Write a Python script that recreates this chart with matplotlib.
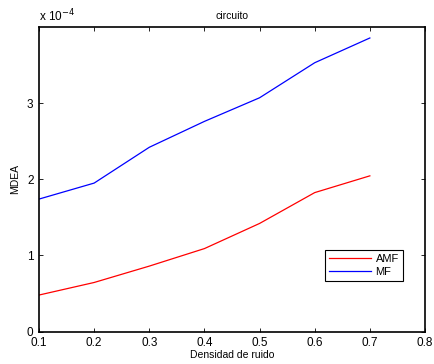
import matplotlib
matplotlib.use("Agg")
import matplotlib.pyplot as plt

plt.rcParams['font.family'] = ['Liberation Sans', 'DejaVu Sans']
plt.rcParams['font.size'] = 8

densidad = [0.1, 0.2, 0.3, 0.4, 0.5, 0.6, 0.7]
amf = [0.48, 0.645, 0.86, 1.09, 1.42, 1.825, 2.045]
mf = [1.74, 1.95, 2.42, 2.76, 3.07, 3.53, 3.855]
xticks = [0.1, 0.2, 0.3, 0.4, 0.5, 0.6, 0.7, 0.8]
yticks = [0, 1, 2, 3]

fig = plt.figure(figsize=(4.35, 3.64), dpi=100)
ax = fig.add_axes([0.0897, 0.089, 0.8873, 0.837])
ax.plot(densidad, [v * 1e-4 for v in amf], color='red', lw=0.9, label='AMF')
ax.plot(densidad, [v * 1e-4 for v in mf], color='blue', lw=0.9, label='MF')
ax.set_xlim(0.1, 0.8)
ax.set_ylim(0, 4e-4)
ax.set_xticks(xticks)
ax.set_xticklabels([f"{t:g}" for t in xticks])
ax.set_yticks([t * 1e-4 for t in yticks])
ax.set_yticklabels([str(t) for t in yticks])
ax.tick_params(direction='in', top=True, right=True, length=3, width=0.6, labelsize=8.5)
ax.tick_params(axis='x', pad=4)
ax.tick_params(axis='y', pad=4)
for s in ax.spines.values():
    s.set_linewidth(1.2)
ax.text(0.0, 1.008, r'x 10$^{-4}$', transform=ax.transAxes, fontsize=8.5, ha='left', va='bottom')
ax.set_title('circuito', fontsize=7.5, pad=6)
ax.set_xlabel('Densidad de ruido', fontsize=7.5, labelpad=0.5)
ax.set_ylabel('MDEA', fontsize=7.5, labelpad=5)
leg = ax.legend(loc='lower left', bbox_to_anchor=(0.741, 0.166), fancybox=False,
                edgecolor='black', framealpha=1, fontsize=8, handlelength=3.8,
                borderpad=0.35, labelspacing=0.25, handletextpad=0.4, borderaxespad=0)
leg.get_frame().set_linewidth(0.8)
fig.savefig('out.png', dpi=100)
